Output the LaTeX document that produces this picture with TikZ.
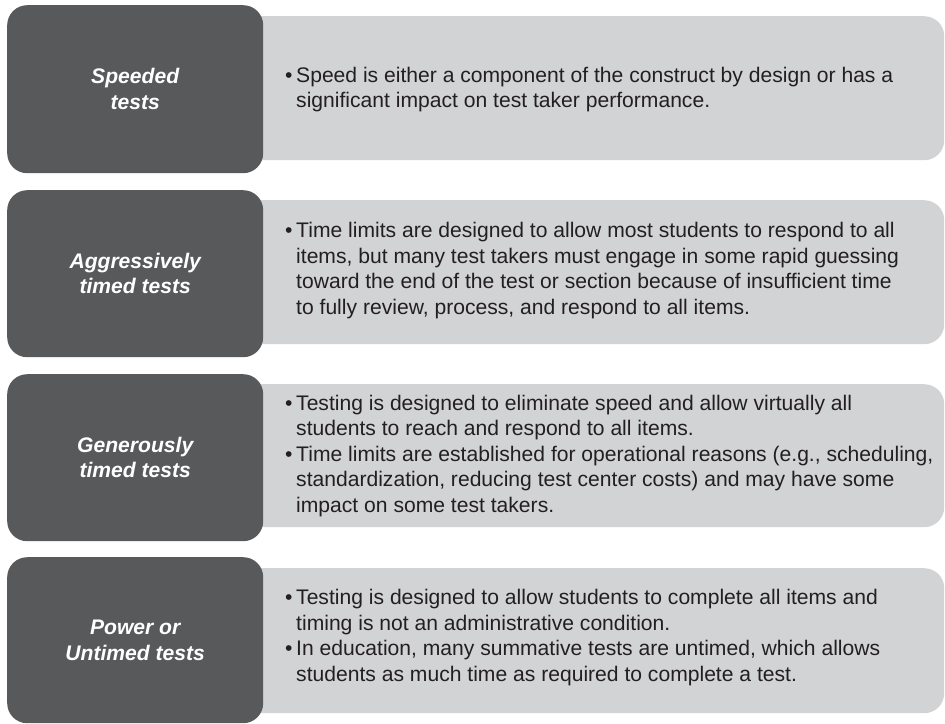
\documentclass[tikz,border=0pt]{standalone}
\usepackage{fontspec}
\setmainfont{Liberation Sans}
\definecolor{darkgrey}{HTML}{58595B}
\definecolor{lightgrey}{HTML}{D2D3D5}
\definecolor{bodyink}{HTML}{231F20}
\newcommand{\bul}{\makebox[11pt][l]{\textbullet}}
\newcommand{\cont}{\hspace*{11pt}}
\begin{document}
\begin{tikzpicture}[x=1pt,y=-1pt,
  catbox/.style={rectangle, rounded corners=20pt, fill=darkgrey, draw=none,
    minimum width=256pt, minimum height=168pt, anchor=north west,
    text=white, align=center, inner sep=0pt,
    font=\fontsize{21.1}{25.5}\selectfont\bfseries\itshape},
  infobox/.style={rectangle, rounded corners=20pt, fill=lightgrey, draw=none,
    minimum width=704pt, minimum height=144pt, anchor=north west, inner sep=0pt},
  infotext/.style={anchor=west, align=left, inner sep=0pt, text=bodyink,
    font=\fontsize{21.1}{25.5}\selectfont}]
\useasboundingbox[fill=white] (0,0) rectangle (945,723);

% row 1
\node[infobox] (b1) at (240,16) {};
\node[catbox] (k1) at (7,5) {Speeded\\tests};
\node[infotext] (t1) at (285,89.5) {\bul Speed is either a component of the construct by design or has a\\
\cont significant impact on test taker performance.};

% row 2
\node[infobox] (b2) at (240,200) {};
\node[catbox, minimum height=167pt] (k2) at (7,190) {Aggressively\\timed tests};
\node[infotext] (t2) at (285,270.5) {\bul Time limits are designed to allow most students to respond to all\\
\cont items, but many test takers must engage in some rapid guessing\\
\cont toward the end of the test or section because of insufficient time\\
\cont to fully review, process, and respond to all items.};

% row 3
\node[infobox, minimum height=143pt] (b3) at (240,384) {};
\node[catbox, minimum height=167pt] (k3) at (7,374) {Generously\\timed tests};
\node[infotext] (t3) at (285,456) {\bul Testing is designed to eliminate speed and allow virtually all\\
\cont students to reach and respond to all items.\\
\bul Time limits are established for operational reasons (e.g., scheduling,\\
\cont standardization, reducing test center costs) and may have some\\
\cont impact on some test takers.};

% row 4
\node[infobox, minimum height=145pt] (b4) at (240,568) {};
\node[catbox, minimum height=166pt] (k4) at (7,557) {Power or\\Untimed tests};
\node[infotext] (t4) at (285,637.5) {\bul Testing is designed to allow students to complete all items and\\
\cont timing is not an administrative condition.\\
\bul In education, many summative tests are untimed, which allows\\
\cont students as much time as required to complete a test.};
\end{tikzpicture}
\end{document}
